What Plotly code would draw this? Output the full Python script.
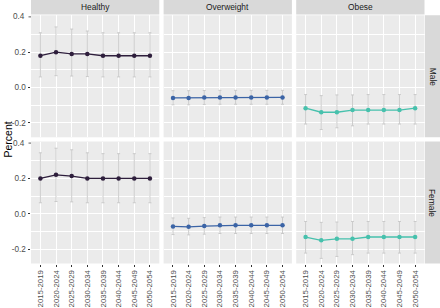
import plotly.graph_objects as go

periods = ['2015-2019', '2020-2024', '2025-2029', '2030-2034',
           '2035-2039', '2040-2044', '2045-2049', '2050-2054']
weight_groups = ['Healthy', 'Overweight', 'Obese']
sexes = ['Male', 'Female']
group_colors = ['#2e1e3c', '#3b64a6', '#47c1ad']

healthy_male = [0.18, 0.20, 0.19, 0.19, 0.18, 0.18, 0.18, 0.18]
healthy_male_lo = [0.060, 0.067, 0.065, 0.062, 0.060, 0.060, 0.060, 0.060]
healthy_male_hi = [0.310, 0.343, 0.331, 0.320, 0.310, 0.310, 0.310, 0.310]

overweight_male = [-0.059, -0.059, -0.057, -0.056, -0.056, -0.056, -0.056, -0.056]
overweight_male_lo = [-0.098, -0.098, -0.096, -0.095, -0.095, -0.095, -0.095, -0.095]
overweight_male_hi = [-0.018, -0.018, -0.017, -0.016, -0.016, -0.016, -0.016, -0.016]

obese_male = [-0.117, -0.140, -0.140, -0.128, -0.128, -0.128, -0.128, -0.117]
obese_male_lo = [-0.207, -0.238, -0.228, -0.217, -0.207, -0.207, -0.207, -0.207]
obese_male_hi = [-0.040, -0.046, -0.042, -0.042, -0.040, -0.040, -0.040, -0.040]

healthy_female = [0.20, 0.22, 0.213, 0.20, 0.20, 0.20, 0.20, 0.20]
healthy_female_lo = [0.062, 0.069, 0.067, 0.062, 0.062, 0.062, 0.062, 0.062]
healthy_female_hi = [0.345, 0.371, 0.362, 0.345, 0.340, 0.340, 0.340, 0.340]

overweight_female = [-0.072, -0.074, -0.070, -0.066, -0.066, -0.066, -0.066, -0.066]
overweight_female_lo = [-0.118, -0.120, -0.116, -0.112, -0.112, -0.112, -0.112, -0.112]
overweight_female_hi = [-0.024, -0.026, -0.022, -0.019, -0.019, -0.019, -0.019, -0.019]

obese_female = [-0.132, -0.151, -0.142, -0.142, -0.132, -0.132, -0.132, -0.132]
obese_female_lo = [-0.223, -0.253, -0.242, -0.232, -0.223, -0.223, -0.223, -0.223]
obese_female_hi = [-0.044, -0.049, -0.047, -0.044, -0.044, -0.044, -0.044, -0.044]

y_ticks = [-0.2, 0.0, 0.2]
y_tick_labels = ['-0.2', '0.0', '0.2']
y_top_tick = 0.4
y_top_label = '0.4'

series = {
    ('Male', 'Healthy'): (healthy_male, healthy_male_lo, healthy_male_hi),
    ('Male', 'Overweight'): (overweight_male, overweight_male_lo, overweight_male_hi),
    ('Male', 'Obese'): (obese_male, obese_male_lo, obese_male_hi),
    ('Female', 'Healthy'): (healthy_female, healthy_female_lo, healthy_female_hi),
    ('Female', 'Overweight'): (overweight_female, overweight_female_lo, overweight_female_hi),
    ('Female', 'Obese'): (obese_female, obese_female_lo, obese_female_hi),
}

W, H = 440, 308
col_px = [(31, 159.3), (163.6, 291.9), (296.2, 424.5)]
row_px = [(15.3, 137.3), (141.5, 263.5)]
strip_top_px = (0, 14.6)
strip_right_px = (425, 440)

def px_x(a):
    return a / W

def px_y(a):
    return 1 - a / H

font_family = 'Liberation Sans, Arial, sans-serif'
fig = go.Figure()
layout = dict(
    width=W, height=H, margin=dict(l=0, r=0, t=0, b=0, autoexpand=False),
    paper_bgcolor='white', plot_bgcolor='#ebebeb', showlegend=False,
    font=dict(family=font_family),
)
shapes = []
annotations = []

yr = [-0.282, 0.409]
n = 0
for r, sex in enumerate(sexes):
    for c, grp in enumerate(weight_groups):
        n += 1
        sfx = '' if n == 1 else str(n)
        vals, lo, hi = series[(sex, grp)]
        fig.add_trace(go.Scatter(
            x=periods, y=vals, mode='lines+markers',
            xaxis='x' + sfx, yaxis='y' + sfx,
            line=dict(color=group_colors[c], width=1.3),
            marker=dict(color=group_colors[c], size=4.5),
            error_y=dict(type='data', symmetric=False,
                         array=[h - v for h, v in zip(hi, vals)],
                         arrayminus=[v - l for v, l in zip(vals, lo)],
                         color='#c6c6c6', thickness=0.9, width=1.5),
        ))
        x0, x1 = col_px[c]
        yt, yb = row_px[r]
        layout['xaxis' + sfx] = dict(
            domain=[px_x(x0), px_x(x1)], anchor='y' + sfx,
            type='category', categoryorder='array', categoryarray=periods,
            range=[-0.6, 7.6], showgrid=True, gridcolor='white', gridwidth=1.1,
            zeroline=False, showline=False, automargin=False,
            showticklabels=(r == 1), ticks='outside' if r == 1 else '',
            ticklen=2.5, tickcolor='#333333', tickwidth=0.8,
            tickangle=-90, tickfont=dict(size=7.8, color='#4d4d4d'),
            ticklabeloverflow='allow', fixedrange=True,
        )
        layout['yaxis' + sfx] = dict(
            domain=[px_y(yb), px_y(yt)], anchor='x' + sfx,
            range=yr, tickmode='array', tickvals=y_ticks, ticktext=y_tick_labels,
            showgrid=True, gridcolor='white', gridwidth=1.1,
            minor=dict(tickvals=[-0.1, 0.1, 0.3], showgrid=True,
                       gridcolor='white', gridwidth=0.5),
            zeroline=False, showline=False, automargin=False,
            showticklabels=(c == 0), ticks='outside' if c == 0 else '',
            ticklen=2.5, tickcolor='#333333', tickwidth=0.8,
            tickfont=dict(size=8.2, color='#4d4d4d'),
            ticklabeloverflow='allow', fixedrange=True,
        )
        if c == 0:
            # top tick (0.4) sits on the panel edge; draw its tick and label explicitly
            shapes.append(dict(type='line', xref='paper', yref='y' + sfx,
                               x0=px_x(x0 - 2.5), x1=px_x(x0),
                               y0=y_top_tick, y1=y_top_tick,
                               line=dict(color='#333333', width=0.8)))
            annotations.append(dict(text=y_top_label, xref='paper', yref='y' + sfx,
                                    x=px_x(x0 - 4.5), y=y_top_tick,
                                    showarrow=False, xanchor='right', yanchor='middle',
                                    font=dict(size=8.2, color='#4d4d4d')))

# top strips
for c, grp in enumerate(weight_groups):
    x0, x1 = col_px[c]
    shapes.append(dict(type='rect', xref='paper', yref='paper',
                       x0=px_x(x0), x1=px_x(x1),
                       y0=px_y(strip_top_px[1]), y1=px_y(strip_top_px[0]),
                       fillcolor='#d9d9d9', line=dict(width=0), layer='below'))
    annotations.append(dict(text=grp, xref='paper', yref='paper',
                            x=px_x((x0 + x1) / 2), y=px_y(sum(strip_top_px) / 2),
                            showarrow=False, xanchor='center', yanchor='middle',
                            font=dict(size=8.4, color='#1a1a1a')))
# right strips
for r, sex in enumerate(sexes):
    yt, yb = row_px[r]
    shapes.append(dict(type='rect', xref='paper', yref='paper',
                       x0=px_x(strip_right_px[0]), x1=px_x(strip_right_px[1]),
                       y0=px_y(yb), y1=px_y(yt),
                       fillcolor='#d9d9d9', line=dict(width=0), layer='below'))
    annotations.append(dict(text=sex, xref='paper', yref='paper',
                            x=px_x(sum(strip_right_px) / 2), y=px_y((yt + yb) / 2),
                            showarrow=False, xanchor='center', yanchor='middle',
                            textangle=90,
                            font=dict(size=8.4, color='#1a1a1a')))

annotations.append(dict(text='Percent', xref='paper', yref='paper',
                        x=px_x(7.5), y=px_y(140),
                        showarrow=False, xanchor='center', yanchor='middle',
                        textangle=-90, font=dict(size=10.5, color='#000000')))

layout['shapes'] = shapes
layout['annotations'] = annotations
fig.update_layout(**layout)
fig.write_html('out.html', config={'displayModeBar': False},
               post_script=("document.body.style.margin='0';"
                            "document.body.style.padding='0';"))
